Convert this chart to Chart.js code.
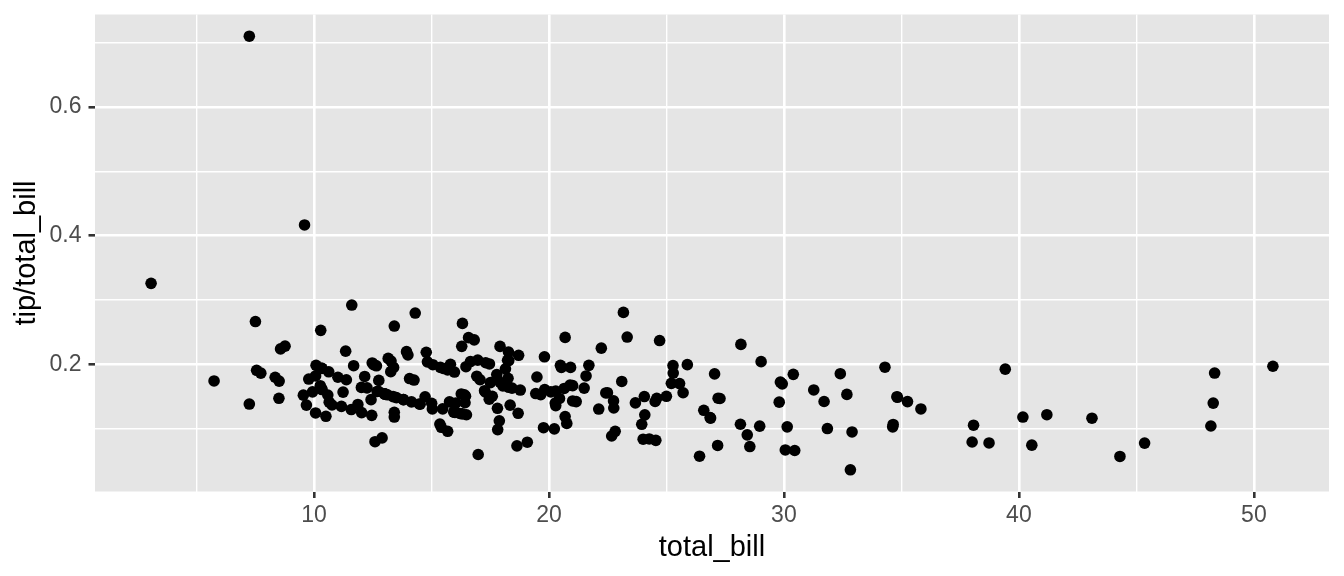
<!DOCTYPE html>
<html>
<head>
<meta charset="utf-8">
<title>tip rate vs total bill</title>
<script src="https://cdn.jsdelivr.net/npm/chart.js@4"></script>
<style>
  html, body { margin: 0; padding: 0; background: #fff; }
  #wrap { width: 1344px; height: 576px; position: relative; }
</style>
</head>
<body>
<div id="wrap"><canvas id="tipChart"></canvas></div>
<script>
// tips dataset: total bill and tip, same row order
const totalBill = [
  16.99, 10.34, 21.01, 23.68, 24.59, 25.29, 8.77, 26.88, 15.04, 14.78,
  10.27, 35.26, 15.42, 18.43, 14.83, 21.58, 10.33, 16.29, 16.97, 20.65,
  17.92, 20.29, 15.77, 39.42, 19.82, 17.81, 13.37, 12.69, 21.70, 19.65,
  9.55, 18.35, 15.06, 20.69, 17.78, 24.06, 16.31, 16.93, 18.69, 31.27,
  16.04, 17.46, 13.94, 9.68, 30.40, 18.29, 22.23, 32.40, 28.55, 18.04,
  12.54, 10.29, 34.81, 9.94, 25.56, 19.49, 38.01, 26.41, 11.24, 48.27,
  20.29, 13.81, 11.02, 18.29, 17.59, 20.08, 16.45, 3.07, 20.23, 15.01,
  12.02, 17.07, 26.86, 25.28, 14.73, 10.51, 17.92, 27.20, 22.76, 17.29,
  19.44, 16.66, 10.07, 32.68, 15.98, 34.83, 13.03, 18.28, 24.71, 21.16,
  28.97, 22.49, 5.75, 16.32, 22.75, 40.17, 27.28, 12.03, 21.01, 12.46,
  11.35, 15.38, 44.30, 22.42, 20.92, 15.36, 20.49, 25.21, 18.24, 14.31,
  14.00, 7.25, 38.07, 23.95, 25.71, 17.31, 29.93, 10.65, 12.43, 24.08,
  11.69, 13.42, 14.26, 15.95, 12.48, 29.80, 8.52, 14.52, 11.38, 22.82,
  19.08, 20.27, 11.17, 12.26, 18.26, 8.51, 10.33, 14.15, 16.00, 13.16,
  17.47, 34.30, 41.19, 27.05, 16.43, 8.35, 18.64, 11.87, 9.78, 7.51,
  14.07, 13.13, 17.26, 24.55, 19.77, 29.85, 48.17, 25.00, 13.39, 16.49,
  21.50, 12.66, 16.21, 13.81, 17.51, 24.52, 20.76, 31.71, 10.59, 10.63,
  50.81, 15.81, 7.25, 31.85, 16.82, 32.90, 17.89, 14.48, 9.60, 34.63,
  34.65, 23.33, 45.35, 23.17, 40.55, 20.69, 20.90, 30.46, 18.15, 23.10,
  15.69, 19.81, 28.44, 15.48, 16.58, 7.56, 10.34, 43.11, 13.00, 13.51,
  18.71, 12.74, 13.00, 16.40, 20.53, 16.47, 26.59, 38.73, 24.27, 12.76,
  30.06, 25.89, 48.33, 13.27, 28.17, 12.90, 28.15, 11.59, 7.74, 30.14,
  12.16, 13.42, 8.58, 15.98, 13.42, 16.27, 10.09, 20.45, 13.28, 22.12,
  24.01, 15.69, 11.61, 10.77, 15.53, 10.07, 12.60, 32.83, 35.83, 29.03,
  27.18, 22.67, 17.82, 18.78
];
const tip = [
  1.01, 1.66, 3.50, 3.31, 3.61, 4.71, 2.00, 3.12, 1.96, 3.23,
  1.71, 5.00, 1.57, 3.00, 3.02, 3.92, 1.67, 3.71, 3.50, 3.35,
  4.08, 2.75, 2.23, 7.58, 3.18, 2.34, 2.00, 2.00, 4.30, 3.00,
  1.45, 2.50, 3.00, 2.45, 3.27, 3.60, 2.00, 3.07, 2.31, 5.00,
  2.24, 2.54, 3.06, 1.32, 5.60, 3.00, 5.00, 6.00, 2.05, 3.00,
  2.50, 2.60, 5.20, 1.56, 4.34, 3.51, 3.00, 1.50, 1.76, 6.73,
  3.21, 2.00, 1.98, 3.76, 2.64, 3.15, 2.47, 1.00, 2.01, 2.09,
  1.97, 3.00, 3.14, 5.00, 2.20, 1.25, 3.08, 4.00, 3.00, 2.71,
  3.00, 3.40, 1.83, 5.00, 2.03, 5.17, 2.00, 4.00, 5.85, 3.00,
  3.00, 3.50, 1.00, 4.30, 3.25, 4.73, 4.00, 1.50, 3.00, 1.50,
  2.50, 3.00, 2.50, 3.48, 4.08, 1.64, 4.06, 4.29, 3.76, 4.00,
  3.00, 1.00, 4.00, 2.55, 4.00, 3.50, 5.07, 1.50, 1.80, 2.92,
  2.31, 1.68, 2.50, 2.00, 2.52, 4.20, 1.48, 2.00, 2.00, 2.18,
  1.50, 2.83, 1.50, 2.00, 3.25, 1.25, 2.00, 2.00, 2.00, 2.75,
  3.50, 6.70, 5.00, 5.00, 2.30, 1.50, 1.36, 1.63, 1.73, 2.00,
  2.50, 2.00, 2.74, 2.00, 2.00, 5.14, 5.00, 3.75, 2.61, 2.00,
  3.50, 2.50, 2.00, 2.00, 3.00, 3.48, 2.24, 4.50, 1.61, 2.00,
  10.00, 3.16, 5.15, 3.18, 4.00, 3.11, 2.00, 2.00, 4.00, 3.55,
  3.68, 5.65, 3.50, 6.50, 3.00, 5.00, 3.50, 2.00, 3.50, 4.00,
  1.50, 4.19, 2.56, 2.02, 4.00, 1.44, 2.00, 5.00, 2.00, 2.00,
  4.00, 2.01, 2.00, 2.50, 4.00, 3.23, 3.41, 3.00, 2.03, 2.23,
  2.00, 5.16, 9.00, 2.50, 6.50, 1.10, 3.00, 1.50, 1.44, 3.09,
  2.20, 3.48, 1.92, 3.00, 1.58, 2.50, 2.00, 3.00, 2.72, 2.88,
  2.00, 3.00, 3.39, 1.47, 3.00, 1.25, 1.00, 1.17, 4.67, 5.92,
  2.00, 2.00, 1.75, 3.00
];

// axis breaks (major get labels, minor only a thin grid line)
const xMajorTicks = [10, 20, 30, 40, 50];
const xMinorTicks = [5, 15, 25, 35, 45];
const yMajorTicks = [0.2, 0.4, 0.6];
const yMinorTicks = [0.1, 0.3, 0.5, 0.7];

const xLabel = "total_bill";
const yLabel = "tip/total_bill";

// tip rate per row
const tipRate = tip.map((t, i) => t / totalBill[i]);
const points = totalBill.map((b, i) => ({ x: b, y: tipRate[i] }));

// ggplot style 5% padding around the data range
function expandRange(values) {
  const lo = Math.min(...values);
  const hi = Math.max(...values);
  const pad = (hi - lo) * 0.05;
  return { min: lo - pad, max: hi + pad };
}
const xRange = expandRange(totalBill);
const yRange = expandRange(tipRate);

const FONT = "'Liberation Sans', Arial, Helvetica, sans-serif";

function isMajor(list, v) {
  return list.some(m => Math.abs(m - v) < 1e-9);
}

function setTicks(major, minor) {
  return (scale) => {
    const all = major.concat(minor).sort((a, b) => a - b);
    scale.ticks = all.map(v => ({ value: v }));
  };
}

// fixed axis size, no label overhang padding (layout padding decides the panel edges)
function fixSize(prop, size) {
  return (scale) => {
    scale[prop] = size;
    scale.paddingTop = 0;
    scale.paddingBottom = 0;
    scale.paddingLeft = 0;
    scale.paddingRight = 0;
  };
}

// grey panel behind the plot area
const panelBackground = {
  id: "panelBackground",
  beforeDraw(chart) {
    const { ctx, chartArea } = chart;
    ctx.save();
    ctx.fillStyle = "#E5E5E5";
    ctx.fillRect(chartArea.left, chartArea.top,
      chartArea.right - chartArea.left, chartArea.bottom - chartArea.top);
    ctx.restore();
  }
};

function gridFor(major) {
  return {
    color: "#FFFFFF",
    lineWidth: (c) => (c.tick && isMajor(major, c.tick.value)) ? 2.6 : 1.4,
    drawTicks: true,
    tickLength: 6.5,
    tickWidth: 2.6,
    tickColor: (c) => (c.tick && isMajor(major, c.tick.value)) ? "#333333" : "rgba(0,0,0,0)"
  };
}

const ctx = document.getElementById("tipChart");
new Chart(ctx, {
  type: "scatter",
  data: {
    datasets: [{
      data: points,
      backgroundColor: "#000000",
      borderWidth: 0,
      pointRadius: 5.8,
      pointHoverRadius: 5.8
    }]
  },
  options: {
    responsive: true,
    maintainAspectRatio: false,
    animation: false,
    events: [],
    layout: { padding: { top: 14.5, right: 15, bottom: 0, left: 0 } },
    plugins: {
      legend: { display: false },
      tooltip: { enabled: false }
    },
    scales: {
      x: {
        type: "linear",
        min: xRange.min,
        max: xRange.max,
        afterBuildTicks: setTicks(xMajorTicks, xMinorTicks),
        afterFit: fixSize("height", 84.5),
        border: { display: false },
        grid: gridFor(xMajorTicks),
        ticks: {
          autoSkip: false,
          maxRotation: 0,
          padding: 4,
          color: "#4D4D4D",
          font: { family: FONT, size: 23 },
          callback: (v) => isMajor(xMajorTicks, v) ? String(v) : ""
        },
        title: {
          display: true,
          text: xLabel,
          color: "#000000",
          font: { family: FONT, size: 29 },
          padding: { top: 0, bottom: 11 }
        }
      },
      y: {
        type: "linear",
        min: yRange.min,
        max: yRange.max,
        afterBuildTicks: setTicks(yMajorTicks, yMinorTicks),
        afterFit: fixSize("width", 95),
        border: { display: false },
        grid: gridFor(yMajorTicks),
        ticks: {
          autoSkip: false,
          padding: 7,
          color: "#4D4D4D",
          font: { family: FONT, size: 23 },
          callback: (v) => isMajor(yMajorTicks, v) ? v.toFixed(1) : ""
        },
        title: {
          display: true,
          text: yLabel,
          color: "#000000",
          font: { family: FONT, size: 29 },
          padding: { top: 10, bottom: 0 }
        }
      }
    }
  },
  plugins: [panelBackground]
});
</script>
</body>
</html>
